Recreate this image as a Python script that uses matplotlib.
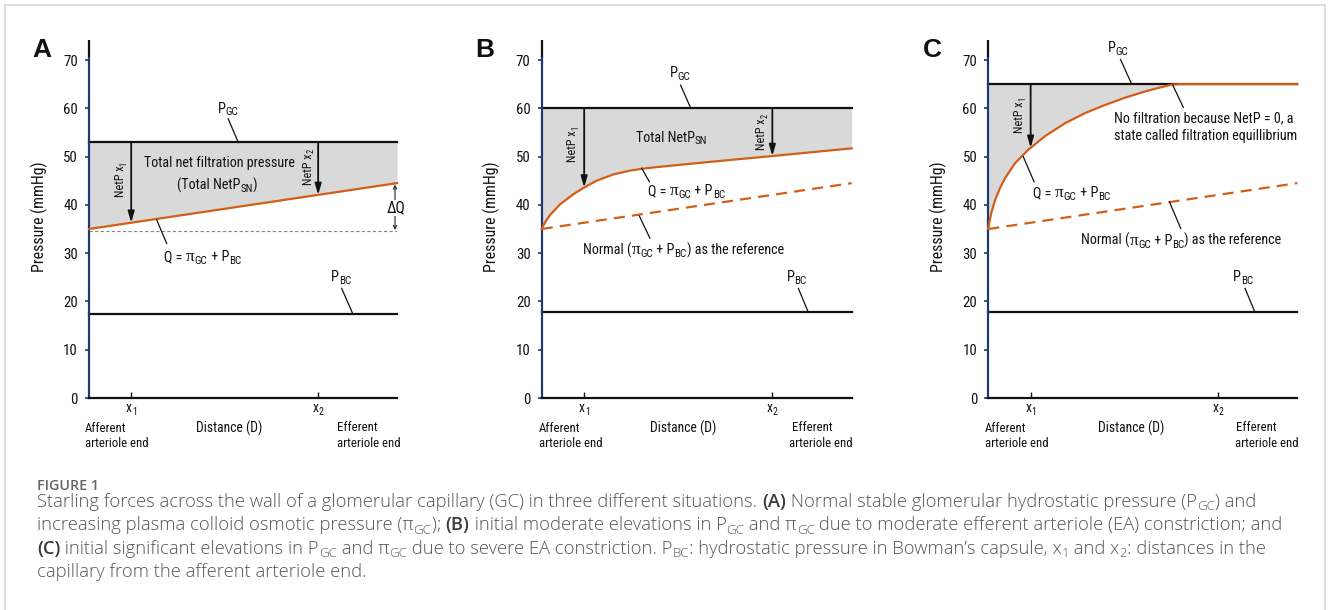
import re
import numpy as np
import matplotlib
matplotlib.use('Agg')
import matplotlib.pyplot as plt
from matplotlib import font_manager as fm
from matplotlib.font_manager import FontProperties
from matplotlib.transforms import offset_copy, IdentityTransform
from matplotlib.lines import Line2D

# ---------------- data ----------------
panel_letters = ['A', 'B', 'C']
y_ticks = [0, 10, 20, 30, 40, 50, 60, 70]
x_marks = [0.137, 0.744]               # x1, x2 (fraction of capillary length)
x_mark_names = ['x_{1}', 'x_{2}']
P_GC = [53.0, 60.0, 65.0]              # glomerular hydrostatic pressure
P_BC = [17.5, 17.75, 17.75]            # Bowman's capsule pressure
normal_x = [0.0, 1.0]
normal_Q = [35.0, 44.5]                # normal (pi_GC + P_BC)
A_start_level = 34.6                   # dashed reference level in A

qB_x = [0.0, 0.006, 0.015, 0.027, 0.059, 0.102, 0.137, 0.177, 0.231, 0.285, 0.339,
        0.446, 0.60, 0.742, 0.87, 1.0]
qB_y = [35.0, 35.8, 36.8, 37.9, 40.1, 42.2, 43.6, 45.0, 46.3, 47.1, 47.6,
        48.3, 49.25, 50.1, 50.9, 51.7]
qC_x = [0.0, 0.004, 0.010, 0.022, 0.038, 0.054, 0.086, 0.129, 0.183, 0.248, 0.313, 0.378,
        0.443, 0.508, 0.561, 0.594, 0.62, 1.0]
qC_y = [35.0, 36.6, 38.4, 41.0, 43.5, 45.5, 48.6, 51.4, 54.2, 56.9, 59.0, 60.7,
        62.2, 63.5, 64.4, 64.9, 65.0, 65.0]

Q_x = [normal_x, qB_x, qC_x]
Q_y = [normal_Q, qB_y, qC_y]
netp_marks = [[0, 1], [0, 1], [0]]

y_label = 'Pressure (mmHg)'
x_label = 'Distance (D)'
afferent = ['Afferent', 'arteriole end']
efferent = ['Efferent', 'arteriole end']
caption_title = 'FIGURE 1'
caption_lines = [
    'Starling forces across the wall of a glomerular capillary (GC) in three different situations. *(A)* Normal stable glomerular hydrostatic pressure (P_{GC}) and',
    'increasing plasma colloid osmotic pressure (π_{GC}); *(B)* initial moderate elevations in P_{GC} and π_{GC} due to moderate efferent arteriole (EA) constriction; and',
    '*(C)* initial significant elevations in P_{GC} and π_{GC} due to severe EA constriction. P_{BC}: hydrostatic pressure in Bowman’s capsule, x_{1} and x_{2}: distances in the',
    'capillary from the afferent arteriole end.',
]

# ---------------- layout ----------------
W, H, DPI = 1328, 610, 100
axes_px = [(89, 397), (541.7, 851.7), (988.3, 1297.3)]
y0_px, y70_px, ytop_px = 398, 60, 40
YMAX = 70 * (y0_px - ytop_px) / (y0_px - y70_px)

panel_texts = [
    [('P_{GC}', 0.417, 59.1),
     ('Total net filtration pressure', 0.179, 47.9),
     ('(Total NetP_{SN})', 0.285, 43.2),
     ('Q = π_{GC} + P_{BC}', 0.245, 28.4),
     ('P_{BC}', 0.785, 24.2)],
    [('P_{GC}', 0.412, 66.4),
     ('Total NetP_{SN}', 0.304, 53.1),
     ('Q = π_{GC} + P_{BC}', 0.344, 42.0),
     ('Normal (π_{GC} + P_{BC}) as the reference', 0.134, 29.8),
     ('P_{BC}', 0.790, 24.2)],
    [('P_{GC}', 0.386, 71.7),
     ('No filtration because NetP = 0, a', 0.408, 57.1),
     ('state called filtration equillibrium', 0.408, 53.4),
     ('Q = π_{GC} + P_{BC}', 0.146, 41.6),
     ('Normal (π_{GC} + P_{BC}) as the reference', 0.300, 31.7),
     ('P_{BC}', 0.793, 24.2)],
]
netp_pos = [[(0.114, 41.6), (0.723, 44.2)], [(0.1106, 48.9), (0.720, 51.4)], [(0.111, 54.9)]]
leaders = [
    [((0.452, 57.8), (0.485, 52.9)), ((0.2197, 36.9), (0.2522, 32.0)), ((0.8204, 22.7), (0.856, 17.5))],
    [((0.448, 64.8), (0.481, 60.0)), ((0.3226, 47.6), (0.347, 44.8)), ((0.315, 37.7), (0.349, 33.1)),
     ((0.828, 22.7), (0.860, 17.75))],
    [((0.428, 70.1), (0.464, 65.0)), ((0.597, 64.8), (0.631, 60.2)), ((0.113, 50.0), (0.148, 44.8)),
     ((0.586, 40.65), (0.623, 35.1)), ((0.831, 22.7), (0.863, 17.75))],
]
bottom_pos = [(-0.013, 0.4556, 0.806, 0.804),
              (-0.0087, 0.457, 0.806, 0.799),
              (-0.0107, 0.464, 0.802, 0.799)]
letter_x = [-0.152, -0.185, -0.181]
ylabel_x = [-0.161, -0.161, -0.162]

ORANGE = '#d25f19'
NAVY = '#1f3a6e'
FILL = '#d9d9d9'


def has_font(name):
    try:
        fm.findfont(FontProperties(family=name), fallback_to_default=False)
        return True
    except Exception:
        return False


CHART_FONT = 'Liberation Sans'
for cand in ['Liberation Sans Narrow', 'Arial Narrow', 'Roboto Condensed', 'Archivo Narrow']:
    if has_font(cand):
        CHART_FONT = cand
        break
BOLD_FONT = 'Liberation Sans'
CAP_FONT = 'Open Sans'
GREEK_FONT = 'Liberation Serif'

fig = plt.figure(figsize=(W / DPI, H / DPI), dpi=DPI)
renderer = fig.canvas.get_renderer()


def parse(s, split_greek=False):
    segs = []
    for m in re.finditer(r'_\{([^}]*)\}|\*([^*]*)\*|([^_*]+)', s):
        if m.group(1) is not None:
            segs.append((m.group(1), 's'))
        elif m.group(2) is not None:
            segs.append((m.group(2), 'b'))
        else:
            txt = m.group(3)
            if split_greek:
                for part in re.split(r'(π)', txt):
                    if part == 'π':
                        segs.append((part, 'g'))
                    elif part:
                        segs.append((part, 'n'))
            else:
                segs.append((txt, 'n'))
    return segs


def text_width(t, fp):
    w1 = renderer.get_text_width_height_descent('|' + t + '|', fp, ismath=False)[0]
    w0 = renderer.get_text_width_height_descent('||', fp, ismath=False)[0]
    return w1 - w0


def seg_props(s, size, family, weight, bold_weight, sub_scale, greek_family=None):
    out = []
    for t, k in parse(s, split_greek=greek_family is not None):
        fam = greek_family if k == 'g' else family
        sz = size * (sub_scale if k == 's' else (1.22 if k == 'g' else 1.0))
        fp = FontProperties(family=fam, size=sz,
                            weight=(bold_weight if k == 'b' else weight))
        out.append((t, k, fp, text_width(t, fp)))
    return out


def rich(x, y, s, size, transform, family=None, color='#111111', ha='left', rotation=0,
         weight='normal', bold_weight='bold', bold_color=None, sub_scale=0.78, sub_drop=0.2,
         greek_family=GREEK_FONT):
    family = family or CHART_FONT
    segs = seg_props(s, size, family, weight, bold_weight, sub_scale, greek_family)
    total = sum(w for _, _, _, w in segs)
    pos = {'left': 0.0, 'center': -total / 2, 'right': -total}[ha]
    th = np.deg2rad(rotation)
    ux, uy = np.cos(th), np.sin(th)
    for t, k, fp, w in segs:
        drop = sub_drop * size * DPI / 72 if k == 's' else 0.0
        ox = pos * ux + drop * uy
        oy = pos * uy - drop * ux
        tr = offset_copy(transform, fig=fig, x=ox, y=oy, units='dots')
        c = bold_color if (k == 'b' and bold_color) else color
        fig.text(x, y, t, transform=tr, fontproperties=fp, color=c, ha='left',
                 va='baseline', rotation=rotation, rotation_mode='anchor')
        pos += w
    return total


# scale chart text so that a reference phrase has the width seen in the picture
_w = text_width('Total net filtration pressure', FontProperties(family=CHART_FONT, size=10.8))
FS = min(1.15, max(0.8, 145.0 / _w))

tick_fp = FontProperties(family=CHART_FONT, size=12 * FS)

for i in range(3):
    l, r = axes_px[i]
    ax = fig.add_axes([l / W, (H - y0_px) / H, (r - l) / W, (y0_px - ytop_px) / H])
    ax.set_xlim(0, 1)
    ax.set_ylim(0, YMAX)
    ax.patch.set_alpha(0)
    for sp in ['top', 'right']:
        ax.spines[sp].set_visible(False)
    ax.spines['bottom'].set_color('#111111')
    ax.spines['bottom'].set_linewidth(1.6)
    ax.spines['left'].set_color(NAVY)
    ax.spines['left'].set_linewidth(1.6)
    ax.spines['left'].set_bounds(0, 70.5)
    ax.plot([0, 0], [70.5, YMAX], color='#111111', lw=1.6, clip_on=False, solid_capstyle='butt')

    ax.set_yticks(y_ticks)
    ax.set_yticklabels([str(v) for v in y_ticks], fontproperties=tick_fp)
    ax.tick_params(axis='y', direction='out', length=3, width=1.2, color=NAVY, pad=5.0,
                   labelcolor='#111111')
    ax.set_xticks(x_marks)
    ax.set_xticklabels(['', ''])
    ax.tick_params(axis='x', direction='in', length=4, width=1.0, color='#111111')

    qx, qy = Q_x[i], Q_y[i]
    ax.fill_between(qx, qy, P_GC[i], color=FILL, lw=0, zorder=1)
    ax.plot([0, 1], [P_GC[i], P_GC[i]], color='#111111', lw=1.6, zorder=2, clip_on=False)
    ax.plot([0, 1], [P_BC[i], P_BC[i]], color='#111111', lw=1.6, zorder=2, clip_on=False)
    if i == 0:
        ax.plot([0, 1], [A_start_level, A_start_level], color='#888888', lw=0.8,
                ls=(0, (3, 2)), zorder=2)
    else:
        ax.plot(normal_x, normal_Q, color=ORANGE, lw=1.6, ls=(0, (5, 3.2)), zorder=3, clip_on=False)
    ax.plot(qx, qy, color=ORANGE, lw=1.6, zorder=3, clip_on=False, solid_joinstyle='round')

    # NetP arrows
    for j in netp_marks[i]:
        xm = x_marks[j]
        qv = float(np.interp(xm, qx, qy))
        ax.annotate('', xy=(xm, qv), xytext=(xm, P_GC[i]),
                    arrowprops=dict(arrowstyle='-|>,head_length=0.55,head_width=0.16',
                                    mutation_scale=12, lw=1.3, color='#111111',
                                    shrinkA=0, shrinkB=0), zorder=4)
    for (px, py), j in zip(netp_pos[i], netp_marks[i]):
        rich(px, py, 'NetP x_{%d}' % (j + 1), 9.8 * FS, ax.transData, rotation=90,
             sub_scale=0.7)

    # leader lines
    for (p0, p1) in leaders[i]:
        ax.plot([p0[0], p1[0]], [p0[1], p1[1]], color='#111111', lw=0.9, zorder=4, clip_on=False)

    # labels
    for s, px, py in panel_texts[i]:
        rich(px, py, s, 11.4 * FS, ax.transData)

    if i == 0:
        xd = 0.9935
        ax.annotate('', xy=(xd, 44.2), xytext=(xd, 41.1),
                    arrowprops=dict(arrowstyle='->', lw=0.8, color='#222222', mutation_scale=6,
                                    shrinkA=0, shrinkB=0))
        ax.annotate('', xy=(xd, 34.8), xytext=(xd, 37.6),
                    arrowprops=dict(arrowstyle='->', lw=0.8, color='#222222', mutation_scale=6,
                                    shrinkA=0, shrinkB=0))
        rich(0.997, 38.45, 'ΔQ', 12.5 * FS, ax.transData, ha='center')

    # x tick names and bottom labels
    for xm, nm in zip(x_marks, x_mark_names):
        rich(xm, -3.0, nm, 11 * FS, ax.transData, ha='center', sub_scale=0.72)
    a_l, d_c, e1_l, e2_l = bottom_pos[i]
    rich(a_l, -7.0, afferent[0], 10.3 * FS, ax.transData)
    rich(a_l, -10.15, afferent[1], 10.3 * FS, ax.transData)
    rich(d_c, -7.2, x_label, 11 * FS, ax.transData, ha='center')
    rich(e1_l, -6.9, efferent[0], 10.3 * FS, ax.transData)
    rich(e2_l, -10.2, efferent[1], 10.3 * FS, ax.transData)

    ax.text(letter_x[i], 70.55, panel_letters[i], fontsize=19, fontweight='bold',
            family=BOLD_FONT, ha='center', va='baseline', transform=ax.transData, color='#111111')
    ax.text(ylabel_x[i], 37.5 / YMAX, y_label, rotation=90, ha='center', va='center',
            fontproperties=FontProperties(family=CHART_FONT, size=12.8 * FS),
            transform=ax.transAxes, color='#111111')

# ---------------- caption ----------------
ident = IdentityTransform()
segs = seg_props(caption_lines[0], 10, CAP_FONT, 'light', 'semibold', 0.72)
w10 = sum(w for *_, w in segs)
cap_size = 10 * (1252 - 37) / w10
segs_t = seg_props(caption_title, 10, CAP_FONT, 'semibold', 'semibold', 0.72)
t10 = sum(w for *_, w in segs_t)
title_size = 10 * (99 - 37) / t10

rich(37, H - 490, caption_title, title_size, ident, family=CAP_FONT, color='#666666',
     weight='semibold', greek_family=None)
for k, line in enumerate(caption_lines):
    rich(37, H - (507 + 23.3 * k), line, cap_size, ident, family=CAP_FONT, color='#555555',
         weight='light', bold_weight='semibold', bold_color='#3a3a3a', sub_scale=0.72,
         sub_drop=0.18, greek_family=None)

# border frame
border_kw = dict(color='#d4d4d4', lw=1.1, transform=ident)
fig.add_artist(Line2D([4.5, 4.5], [0, H - 5], **border_kw))
fig.add_artist(Line2D([4.5, 1324.5], [H - 5, H - 5], **border_kw))
fig.add_artist(Line2D([1324.5, 1324.5], [0, H - 5], **border_kw))

fig.savefig('out.png', dpi=DPI)
